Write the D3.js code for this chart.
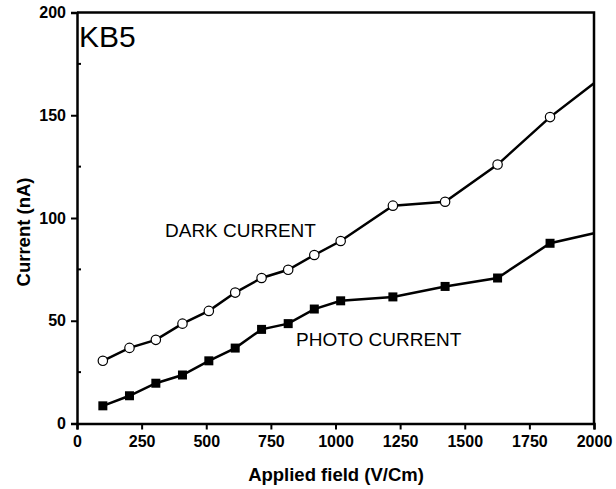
<!DOCTYPE html>
<html>
<head>
<meta charset="utf-8">
<script src="https://cdn.jsdelivr.net/npm/d3@7/dist/d3.min.js"></script>
<style>
  body { margin: 0; background: #fff; }
  svg { display: block; font-family: "Liberation Sans", Arial, sans-serif; }
</style>
</head>
<body>
<svg id="chart" width="616" height="489"></svg>
<script>
// data
const darkField  = [100, 203, 305, 408, 510, 612, 714, 817, 918, 1020, 1222, 1424, 1627, 1830, 2000]
const darkCurr   = [30.5, 36.8, 40.7, 48.6, 54.8, 63.7, 70.8, 74.8, 82, 88.8, 106, 107.9, 126, 149.1, 165.6]
const photoField = [100, 203, 305, 408, 510, 612, 714, 817, 918, 1020, 1222, 1424, 1627, 1830, 2000]
const photoCurr  = [8.6, 13.5, 19.6, 23.6, 30.5, 36.7, 45.8, 48.6, 55.7, 59.7, 61.6, 66.7, 70.8, 87.7, 92.6]
const xTicks = [0, 250, 500, 750, 1000, 1250, 1500, 1750, 2000]
const yTicks = [0, 50, 100, 150, 200]
const yMinor = [25, 75, 125, 175]

const svg = d3.select('#chart')
const x = d3.scaleLinear().domain([0, 2000]).range([77, 594])
const y = d3.scaleLinear().domain([0, 200]).range([423.5, 12.5])

// frame (top + right)
svg.append('path')
  .attr('d', `M${x(0)},${y(200)}H${x(2000)}V${y(0)}`)
  .attr('fill', 'none').attr('stroke', '#000').attr('stroke-width', 2.5)

// x axis
const gx = svg.append('g').attr('transform', `translate(0,${y(0)})`)
  .call(d3.axisBottom(x).tickValues(xTicks).tickSize(6).tickPadding(6).tickFormat(d3.format('d')))
gx.select('.domain').attr('stroke-width', 2.5)
gx.selectAll('.tick line').attr('stroke-width', 2)
gx.selectAll('text').attr('font-size', 16).attr('font-weight', 'bold').attr('font-family', '"Liberation Sans", Arial')

// y axis
const gy = svg.append('g').attr('transform', `translate(${x(0)},0)`)
  .call(d3.axisLeft(y).tickValues(yTicks).tickSize(6).tickPadding(5))
gy.select('.domain').attr('stroke-width', 2.5)
gy.selectAll('.tick line').attr('stroke-width', 2)
gy.selectAll('text').attr('font-size', 16).attr('font-weight', 'bold').attr('font-family', '"Liberation Sans", Arial')

// minor y ticks (inside)
svg.selectAll('line.minor')
  .data(yMinor).enter().append('line')
  .attr('x1', x(0)).attr('x2', x(0) + 4)
  .attr('y1', d => y(d)).attr('y2', d => y(d))
  .attr('stroke', '#000').attr('stroke-width', 2)

// axis titles
svg.append('text')
  .attr('x', 336).attr('y', 481)
  .attr('text-anchor', 'middle')
  .attr('font-size', 18.5).attr('font-weight', 'bold')
  .text('Applied field (V/Cm)')

svg.append('text')
  .attr('transform', `translate(30,232) rotate(-90)`)
  .attr('text-anchor', 'middle')
  .attr('font-size', 18.5).attr('font-weight', 'bold')
  .text('Current (nA)')

// lines
const line = d3.line().x(d => x(d[0])).y(d => y(d[1]))
const dark = darkField.map((f, i) => [f, darkCurr[i]])
const photo = photoField.map((f, i) => [f, photoCurr[i]])

svg.append('path').datum(dark).attr('d', line)
  .attr('fill', 'none').attr('stroke', '#000').attr('stroke-width', 2.5)
svg.append('path').datum(photo).attr('d', line)
  .attr('fill', 'none').attr('stroke', '#000').attr('stroke-width', 2.5)

// markers (last point at the frame has none)
svg.selectAll('circle.dark')
  .data(dark.slice(0, -1)).enter().append('circle')
  .classed('dark', true)
  .attr('cx', d => x(d[0])).attr('cy', d => y(d[1]))
  .attr('r', 4.7)
  .attr('fill', '#fff').attr('stroke', '#000').attr('stroke-width', 1.2)

svg.selectAll('rect.photo')
  .data(photo.slice(0, -1)).enter().append('rect')
  .classed('photo', true)
  .attr('x', d => x(d[0]) - 4.5).attr('y', d => y(d[1]) - 4.5)
  .attr('width', 9).attr('height', 9)
  .attr('fill', '#000')

// annotations
svg.append('text').attr('x', 79).attr('y', 47)
  .attr('font-size', 30).text('KB5')
svg.append('text').attr('x', 165).attr('y', 236.5)
  .attr('font-size', 19).text('DARK CURRENT')
svg.append('text').attr('x', 296).attr('y', 346)
  .attr('font-size', 19).text('PHOTO CURRENT')
</script>
</body>
</html>
